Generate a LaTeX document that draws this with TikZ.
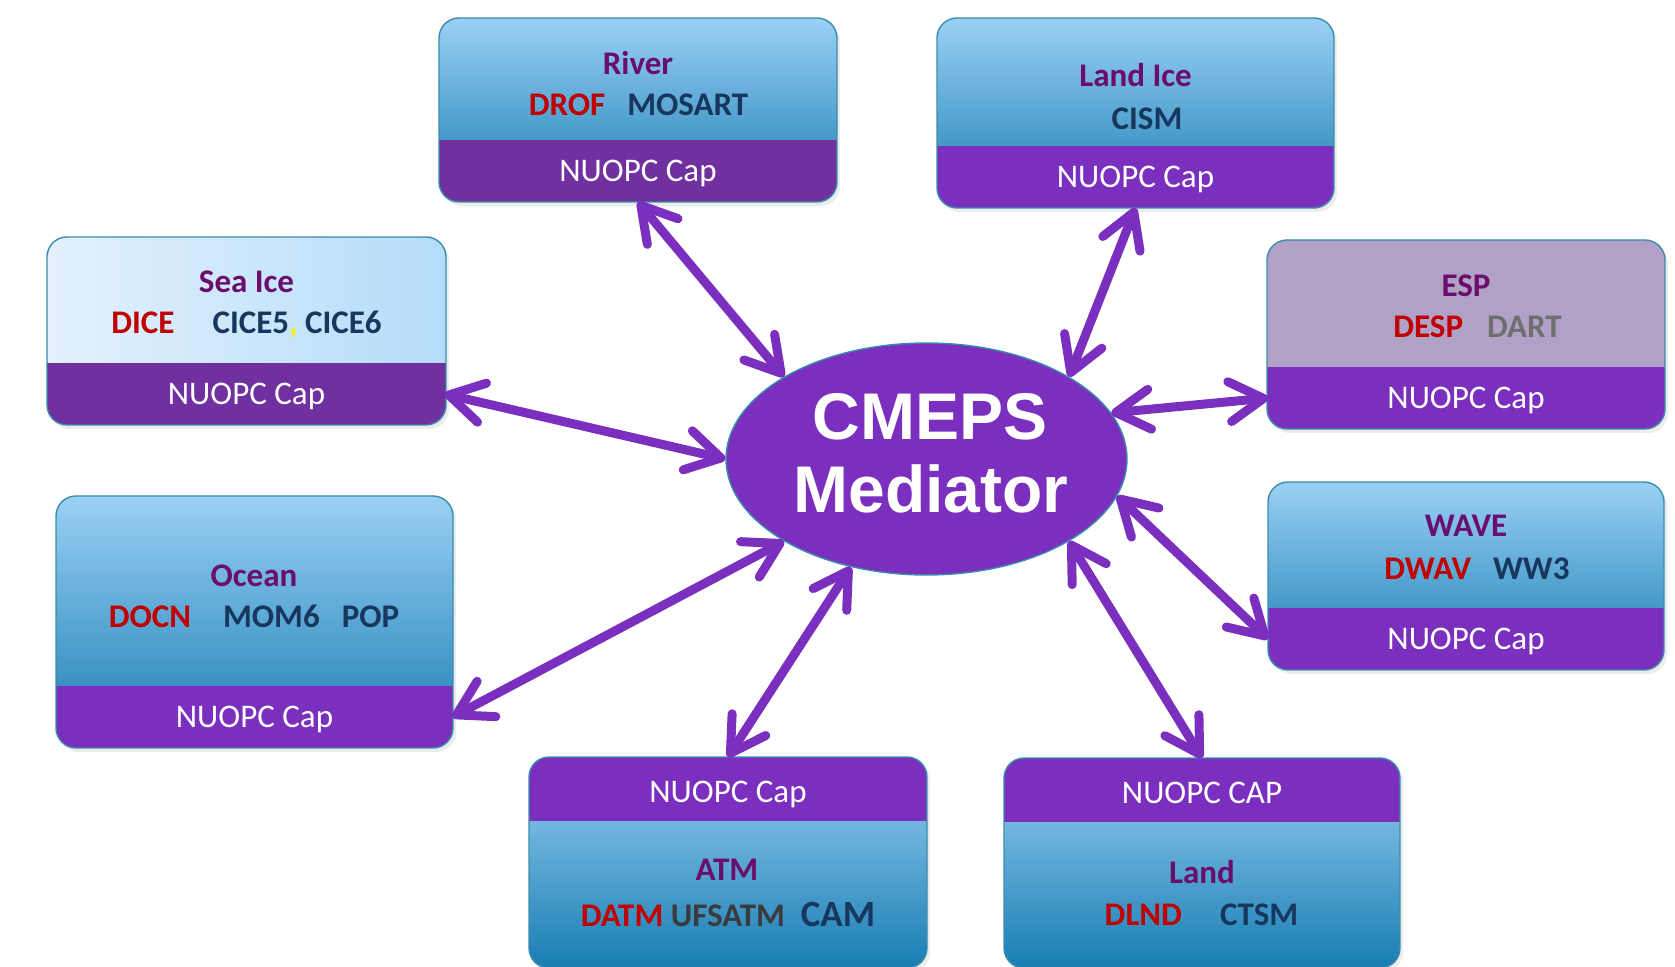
\documentclass[tikz,border=0pt]{standalone}
\usepackage{fontspec}
\setmainfont{Carlito}
\newfontfamily\medfont{Liberation Sans}
\usetikzlibrary{arrows.meta,shapes.geometric,shadows}

\definecolor{skytop}{HTML}{9BD0F5}
\definecolor{skybot}{HTML}{187DB2}
\definecolor{icepale}{HTML}{E4F1FC}
\definecolor{iceblue}{HTML}{B4DCFA}
\definecolor{lavender}{HTML}{B1A1C7}
\definecolor{capdark}{HTML}{7030A0}
\definecolor{capviolet}{HTML}{7B2FBE}
\definecolor{boxedge}{HTML}{3A8DAA}
\definecolor{titlec}{HTML}{6B0D6B}
\definecolor{datac}{HTML}{C00000}
\definecolor{modelc}{HTML}{17375E}
\definecolor{dartc}{HTML}{6E6E6E}
\definecolor{ufsc}{HTML}{3B3B3B}
\definecolor{commac}{HTML}{FFEE00}

\tikzset{
  compbox/.style={draw=boxedge, line width=0.7pt, rounded corners=10pt, inner sep=0pt, outer sep=0pt,
    drop shadow={opacity=0.15, shadow xshift=1.5pt, shadow yshift=-2pt}},
  capdown/.style 2 args={path picture={
      \shade[sharp corners,#2] (path picture bounding box.north west) rectangle ([yshift=31pt]path picture bounding box.south east);
      \fill[sharp corners,#1] ([yshift=31pt]path picture bounding box.south west) rectangle (path picture bounding box.south east);}},
  capup/.style 2 args={path picture={
      \shade[sharp corners,#2] ([yshift=-32pt]path picture bounding box.north west) rectangle (path picture bounding box.south east);
      \fill[sharp corners,#1] (path picture bounding box.north west) rectangle ([yshift=-32pt]path picture bounding box.north east);}},
  sky/.style={top color=skytop, bottom color=skybot},
  capstrip/.style={inner sep=0pt, outer sep=0pt, minimum width=198pt, text depth=0pt, text=white, font=\fontsize{16.5}{20}\selectfont},
  boxtitle/.style={anchor=base, inner sep=0pt, text=titlec, font=\bfseries\fontsize{16.5}{20}\selectfont},
  modelline/.style={anchor=base, inner sep=0pt, text=modelc, font=\bfseries\fontsize{16.5}{20}\selectfont},
  medtext/.style={anchor=base, inner sep=0pt, text=white, font=\medfont\bfseries\fontsize{33}{36}\selectfont},
  link/.style={draw=capviolet, line width=4.5pt, line cap=round,
    {Straight Barb[length=17pt, width=20pt, round]}-{Straight Barb[length=17pt, width=20pt, round]}}
}

\begin{document}
\begin{tikzpicture}[x=0.5pt, y=-0.5pt]
\useasboundingbox (0,0) rectangle (1675,967);

% component boxes
\node[compbox, capdown={capdark}{sky}, minimum width=199pt, minimum height=92pt] (river) at (638,110) {};
\node[capstrip, minimum height=31pt] (rivercap) at (638,171) {NUOPC Cap};
\node[boxtitle] (rivert) at (638,75) {River};
\node[modelline] (riverm) at (638.5,116) {{\color{datac}DROF}\hspace{11pt}MOSART};

\node[compbox, capdown={capviolet}{sky}, minimum width=198.5pt, minimum height=95pt] (landice) at (1135.5,113) {};
\node[capstrip, minimum height=31pt] (landicecap) at (1135.5,177) {NUOPC Cap};
\node[boxtitle] (landicet) at (1135.5,87) {Land Ice};
\node[modelline] (landicem) at (1147,130) {CISM};

\node[compbox, capdown={capdark}{left color=icepale, right color=iceblue}, minimum width=199.5pt, minimum height=94pt] (seaice) at (246.5,331) {};
\node[capstrip, minimum height=31pt] (seaicecap) at (246.5,394) {NUOPC Cap};
\node[boxtitle] (seaicet) at (246.5,293) {Sea Ice};
\node[modelline] (seaicem) at (246.5,334) {{\color{datac}DICE}\hspace{19pt}CICE5{\color{commac},} CICE6};

\node[compbox, capdown={capviolet}{top color=lavender, bottom color=lavender}, minimum width=199pt, minimum height=94.5pt] (esp) at (1466,334.5) {};
\node[capstrip, minimum height=31pt] (espcap) at (1466,398) {NUOPC Cap};
\node[boxtitle] (espt) at (1466,297) {ESP};
\node[modelline] (espm) at (1477.5,338) {{\color{datac}DESP}\hspace{12pt}{\color{dartc}DART}};

\node[compbox, capdown={capviolet}{sky}, minimum width=198.5pt, minimum height=126pt] (ocean) at (254.5,622) {};
\node[capstrip, minimum height=31pt] (oceancap) at (254.5,717) {NUOPC Cap};
\node[boxtitle] (oceant) at (254,586) {Ocean};
\node[modelline] (oceanm) at (254,627) {{\color{datac}DOCN}\hspace{16pt}MOM6\hspace{11pt}POP};

\node[compbox, capdown={capviolet}{sky}, minimum width=198pt, minimum height=94pt] (wave) at (1466,576) {};
\node[capstrip, minimum height=31pt] (wavecap) at (1466,639) {NUOPC Cap};
\node[boxtitle] (wavet) at (1466,537) {WAVE};
\node[modelline] (wavem) at (1477,580) {{\color{datac}DWAV}\hspace{11pt}WW3};

\node[compbox, capup={capviolet}{sky}, minimum width=199pt, minimum height=105.5pt] (atm) at (728,862.5) {};
\node[capstrip, minimum height=32pt, text height=13.9pt] (atmcap) at (728,789) {NUOPC Cap};
\node[boxtitle] (atmt) at (727,880) {ATM};
\node[modelline] (atmm) at (728,926) {{\color{datac}DATM} {\color{ufsc}UFSATM}\hspace{8pt}{\fontsize{18.5}{20}\selectfont CAM}};

\node[compbox, capup={capviolet}{sky}, minimum width=198pt, minimum height=105pt] (land) at (1202,863) {};
\node[capstrip, minimum height=32pt, text height=13.9pt] (landcap) at (1202,790) {NUOPC CAP};
\node[boxtitle] (landt) at (1202,883) {Land};
\node[modelline] (landm) at (1201.5,925) {{\color{datac}DLND}\hspace{19pt}CTSM};

% mediator
\node[ellipse, fill=capviolet, draw=boxedge, line width=0.7pt, inner sep=0pt, minimum width=200.5pt, minimum height=116pt] (med) at (926.5,459) {};
\node[medtext] (medtop) at (930,440) {CMEPS};
\node[medtext] (medbot) at (931,513) {Mediator};

\foreach \a/\b in {rivercap.south/med.150, landicecap.south/med.30, espcap.west/med.14,
  wavecap.west/med.349, landcap.north/med.330, atmcap.north/med.235,
  oceancap.east/med.210, seaicecap.east/med.west}
  \draw[link] (\a) -- (\b);
\end{tikzpicture}
\end{document}
